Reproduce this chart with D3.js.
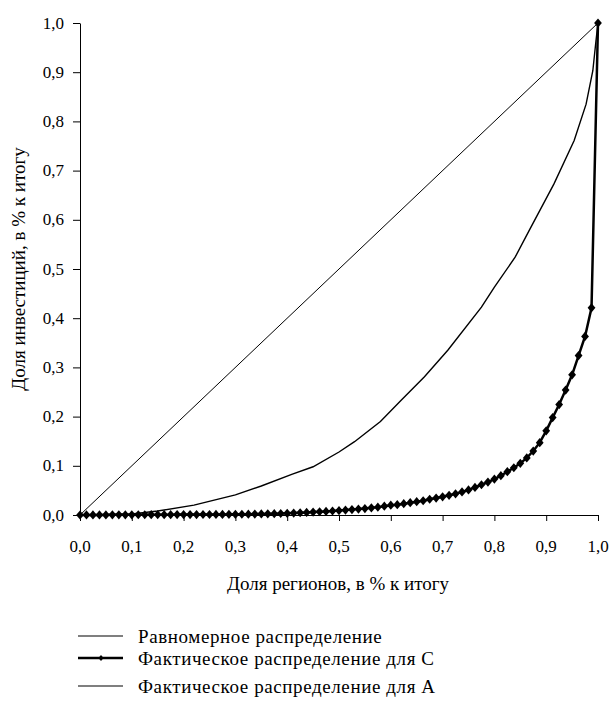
<!DOCTYPE html>
<html>
<head>
<meta charset="utf-8">
<script src="https://cdn.jsdelivr.net/npm/d3@7"></script>
</head>
<body style="margin:0; font-family: 'Times New Roman';">
<script>
// tick values on both axes
var ticks = [0, 0.1, 0.2, 0.3, 0.4, 0.5, 0.6, 0.7, 0.8, 0.9, 1.0];

// uniform distribution (line of equality)
var uniformX = [0, 1];
var uniformY = [0, 1];

var aX = [0, 0.1, 0.15, 0.22, 0.3, 0.35, 0.41, 0.45, 0.5, 0.53, 0.58, 0.62, 0.665, 0.71, 0.775, 0.8, 0.84, 0.867, 0.915, 0.954, 0.977, 0.99, 0.996, 1.0];
var aY = [0, 0.002, 0.008, 0.02, 0.041, 0.059, 0.083, 0.098, 0.128, 0.149, 0.19, 0.233, 0.281, 0.335, 0.4225, 0.463, 0.524, 0.578, 0.673, 0.761, 0.835, 0.903, 0.963, 1.0];

// actual distribution for C, one point per region (80 regions + origin)
var cY = [0, 0.0001, 0.0001, 0.0002, 0.0002, 0.0003, 0.0003, 0.0004, 0.0004, 0.0005,
          0.0005, 0.0006, 0.0006, 0.0007, 0.0007, 0.0008, 0.0008, 0.0009, 0.0009, 0.001,
          0.001, 0.0011, 0.0012, 0.0013, 0.0014, 0.0015, 0.0017, 0.0019, 0.0021, 0.0023,
          0.0026, 0.003, 0.0035, 0.004, 0.0046, 0.0052, 0.0059, 0.0066, 0.0073, 0.0081,
          0.009, 0.010, 0.011, 0.012, 0.013, 0.0145, 0.016, 0.018, 0.020, 0.021,
          0.023, 0.025, 0.027, 0.029, 0.032, 0.0345, 0.037, 0.040, 0.043, 0.047,
          0.051, 0.056, 0.0615, 0.067, 0.073, 0.080, 0.088, 0.096, 0.105, 0.116,
          0.130, 0.147, 0.171, 0.198, 0.2245, 0.254, 0.285, 0.324, 0.363, 0.421,
          1.0];

var legendLabels = ["Равномерное распределение", "Фактическое распределение для С", "Фактическое распределение для А"];

var width = 614, height = 707;

var svg = d3.select("body")
            .append("svg")
            .attr("width", width)
            .attr("height", height);

var x = d3.scaleLinear()
          .domain([0, 1])
          .range([80, 598]);

var y = d3.scaleLinear()
          .domain([0, 1])
          .range([515, 23]);

var fmt = d => d3.format(".1f")(d).replace(".", ",");

function label(px, py, size, txt) {
    return svg.append("text")
              .attr("x", px)
              .attr("y", py)
              .style("font-family", "'Times New Roman'")
              .style("font-size", size + "px")
              .text(txt);
}

// axis lines and ticks
var xAxis = svg.append("g")
               .attr("transform", "translate(0," + y(0) + ")")
               .call(d3.axisBottom(x).tickValues(ticks).tickFormat("").tickSize(6).tickSizeOuter(0));

var yAxis = svg.append("g")
               .attr("transform", "translate(" + x(0) + ",0)")
               .call(d3.axisLeft(y).tickValues(ticks).tickFormat("").tickSize(7).tickSizeOuter(0));

[xAxis, yAxis].forEach(function(g) {
    g.selectAll("text").remove();
    g.selectAll("line, path").attr("stroke", "#000");
});

ticks.forEach(function(t) {
    label(x(t), 552, 17, fmt(t)).attr("text-anchor", "middle");
    label(64, y(t) + 5.5, 17, fmt(t)).attr("text-anchor", "end");
});

var line = d3.line()
             .x(d => x(d[0]))
             .y(d => y(d[1]));

svg.append("path")
   .datum(uniformX.map((v, i) => [v, uniformY[i]]))
   .attr("d", line)
   .attr("fill", "none")
   .attr("stroke", "#000")
   .attr("stroke-width", 1);

svg.append("path")
   .datum(aX.map((v, i) => [v, aY[i]]))
   .attr("d", line)
   .attr("fill", "none")
   .attr("stroke", "#000")
   .attr("stroke-width", 1.4);

var cData = cY.map((v, i) => [i / (cY.length - 1), v]);

svg.append("path")
   .datum(cData)
   .attr("d", line)
   .attr("fill", "none")
   .attr("stroke", "#000")
   .attr("stroke-width", 2.5);

var diamond = "M0,-4.6L3.9,0L0,4.6L-3.9,0Z";

svg.append("g")
   .selectAll("path")
   .data(cData).enter()
   .append("path")
   .attr("d", diamond)
   .attr("transform", d => "translate(" + x(d[0]) + "," + y(d[1]) + ")")
   .attr("fill", "#000");

// axis titles
label(338, 590, 19, "Доля регионов, в % к итогу")
   .attr("text-anchor", "middle");

label(0, 0, 19, "Доля инвестиций, в % к итогу")
   .attr("transform", "translate(25,269) rotate(-90)")
   .attr("text-anchor", "middle");

// legend
var rowY = [636, 658, 686];

legendLabels.forEach(function(txt, i) {
    svg.append("line")
       .attr("x1", 78).attr("x2", 123)
       .attr("y1", rowY[i]).attr("y2", rowY[i])
       .attr("stroke", "#000")
       .attr("stroke-width", i == 1 ? 2.5 : 1.2);
    if (i == 1) {
        svg.append("path")
           .attr("d", "M0,-3L2.6,0L0,3L-2.6,0Z")
           .attr("transform", "translate(101," + rowY[i] + ")");
    }
    label(138, rowY[i] + 6.5, 19, txt)
       .style("letter-spacing", "0.6px");
});
</script>
</body>
</html>
